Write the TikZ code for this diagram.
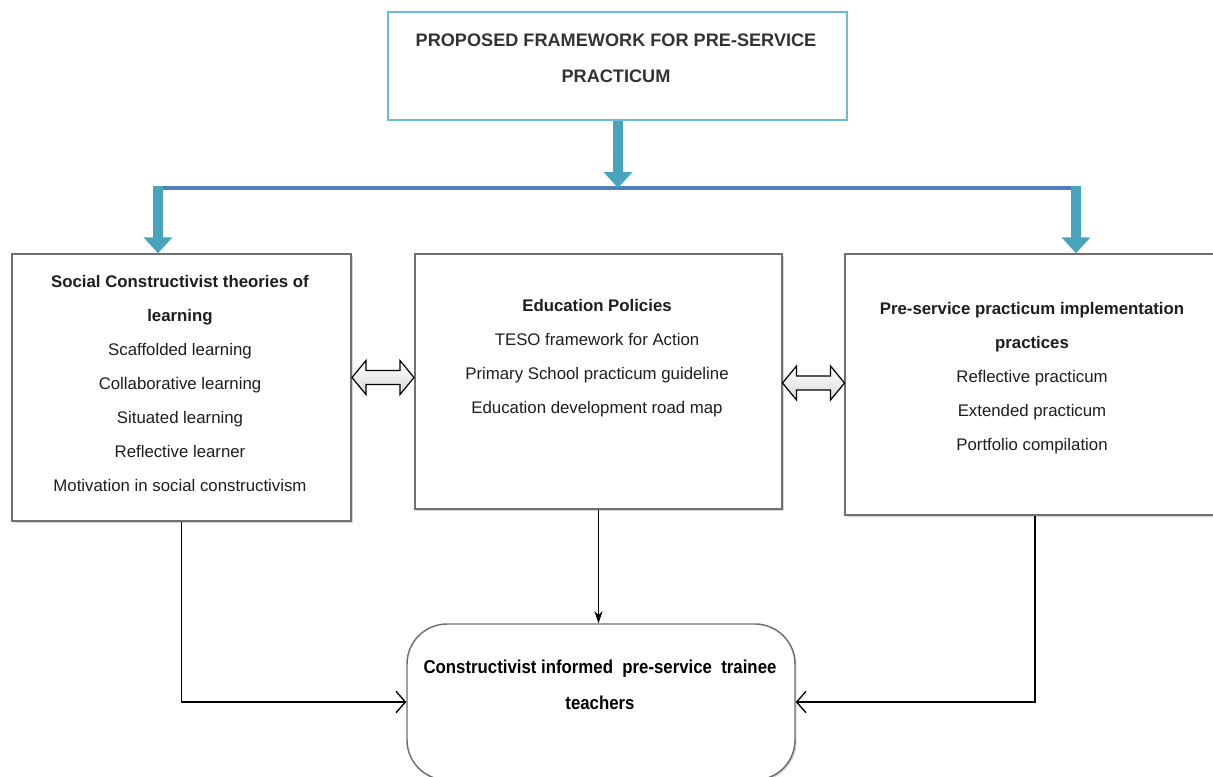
\documentclass[tikz,border=0pt]{standalone}
\usepackage{fontspec}
\setmainfont{Liberation Sans}
\newfontfamily\narrowfont[FakeStretch=0.90]{Liberation Sans}
\usetikzlibrary{arrows.meta,shadows,calc}
\definecolor{tealA}{HTML}{4AA3BC}
\definecolor{barblue}{HTML}{4F7FBD}
\definecolor{frameteal}{HTML}{6BBCD3}
\definecolor{boxgray}{HTML}{707070}
\definecolor{inktext}{HTML}{1E1E1E}
\tikzset{
  x=0.75pt, y=-0.75pt,
  titlebox/.style={draw=frameteal, line width=1.2pt, fill=white},
  mainbox/.style={draw=boxgray, line width=1.1pt, fill=white,
    drop shadow={shadow xshift=1.2pt, shadow yshift=-1.2pt, fill=black!40, opacity=0.4}},
  goalbox/.style={draw=boxgray, line width=1.1pt, fill=white, rounded corners=30pt,
    drop shadow={shadow xshift=1.2pt, shadow yshift=-1.2pt, fill=black!40, opacity=0.4}},
  boxtext/.style={align=center, text=inktext, font=\fontsize{12.6}{25.5}\selectfont, inner sep=0pt},
  feed/.style={draw=tealA, line width=7pt, -{Triangle[width=21pt,length=12pt]}},
  bar/.style={draw=barblue, line width=3pt},
  link/.style={draw=black, line width=1pt},
  twoway/.style={draw=black, line width=0.9pt, top color=white, bottom color=black!15},
}
\begin{document}
\begin{tikzpicture}
\useasboundingbox (0,0) rectangle (1213,776);
\fill[white] (0,0) rectangle (1213,776);

% boxes
\node[titlebox, minimum width=344.25pt, minimum height=81pt, inner sep=0pt] (T) at (617.5,66) {};
\node[boxtext, font=\bfseries\fontsize{13.6}{27}\selectfont, text=black!80] (Tt) at (616,58)
  {PROPOSED FRAMEWORK FOR PRE-SERVICE\\PRACTICUM};

\node[mainbox, minimum width=254.25pt, minimum height=200.25pt, inner sep=0pt] (L) at (181.5,387.5) {};
\node[boxtext] (Lt) at (180,383)
  {\textbf{Social Constructivist theories of}\\\textbf{learning}\\Scaffolded learning\\Collaborative learning\\Situated learning\\Reflective learner\\Motivation in social constructivism};

\node[mainbox, minimum width=275.25pt, minimum height=191.25pt, inner sep=0pt] (M) at (598.5,381.5) {};
\node[boxtext] (Mt) at (597,358)
  {\textbf{Education Policies}\\TESO framework for Action\\Primary School practicum guideline\\Education development road map};

\node[mainbox, minimum width=285pt, minimum height=195.75pt, inner sep=0pt] (R) at (1035,384.5) {};
\node[boxtext] (Rt) at (1032,378.5)
  {\textbf{Pre-service practicum implementation}\\\textbf{practices}\\Reflective practicum\\Extended practicum\\Portfolio compilation};

\node[goalbox, minimum width=291pt, minimum height=117pt, inner sep=0pt] (B) at (601,702) {};
\node[boxtext, font=\narrowfont\bfseries\fontsize{14}{27}\selectfont, text=black] (Bt) at (600,685)
  {Constructivist informed\ \ pre-service\ \ trainee\\teachers};

% distribution arrows from the title
\coordinate (hubL) at (158,188);
\coordinate (hubC) at (618,188);
\coordinate (hubR) at (1076,188);
\draw[bar] ($(hubL)+(-4,0)$) -- ($(hubR)+(4,0)$);
\draw[feed] (T.south -| hubC) -- (hubC);
\draw[feed] ($(hubL)+(0,-2)$) -- (hubL |- L.north);
\draw[feed] ($(hubR)+(0,-2)$) -- (hubR |- R.north);

% two-way links between the columns
\begin{scope}[shift={($(L.east)!0.5!(M.west)+(0,-7)$)}]
  \draw[twoway] (-31,0) -- (-17,-17) -- (-17,-7) -- (17,-7) -- (17,-17) -- (31,0)
    -- (17,17) -- (17,7) -- (-17,7) -- (-17,17) -- cycle;
\end{scope}
\begin{scope}[shift={($(M.east)!0.5!(R.west)+(0,0)$)}]
  \draw[twoway] (-31,0) -- (-17,-17) -- (-17,-7) -- (17,-7) -- (17,-17) -- (31,0)
    -- (17,17) -- (17,7) -- (-17,7) -- (-17,17) -- cycle;
\end{scope}

% links to the outcome
\draw[link, -{Straight Barb[length=7pt,width=16pt]}] (L.south) |- (B.west);
\draw[link, -{Straight Barb[length=7pt,width=16pt]}] (R.south) |- (B.east);
\draw[link, line width=0.8pt, -{Stealth[length=9pt,width=6pt]}] (M.south) -- (M.south |- B.north);
\end{tikzpicture}
\end{document}
